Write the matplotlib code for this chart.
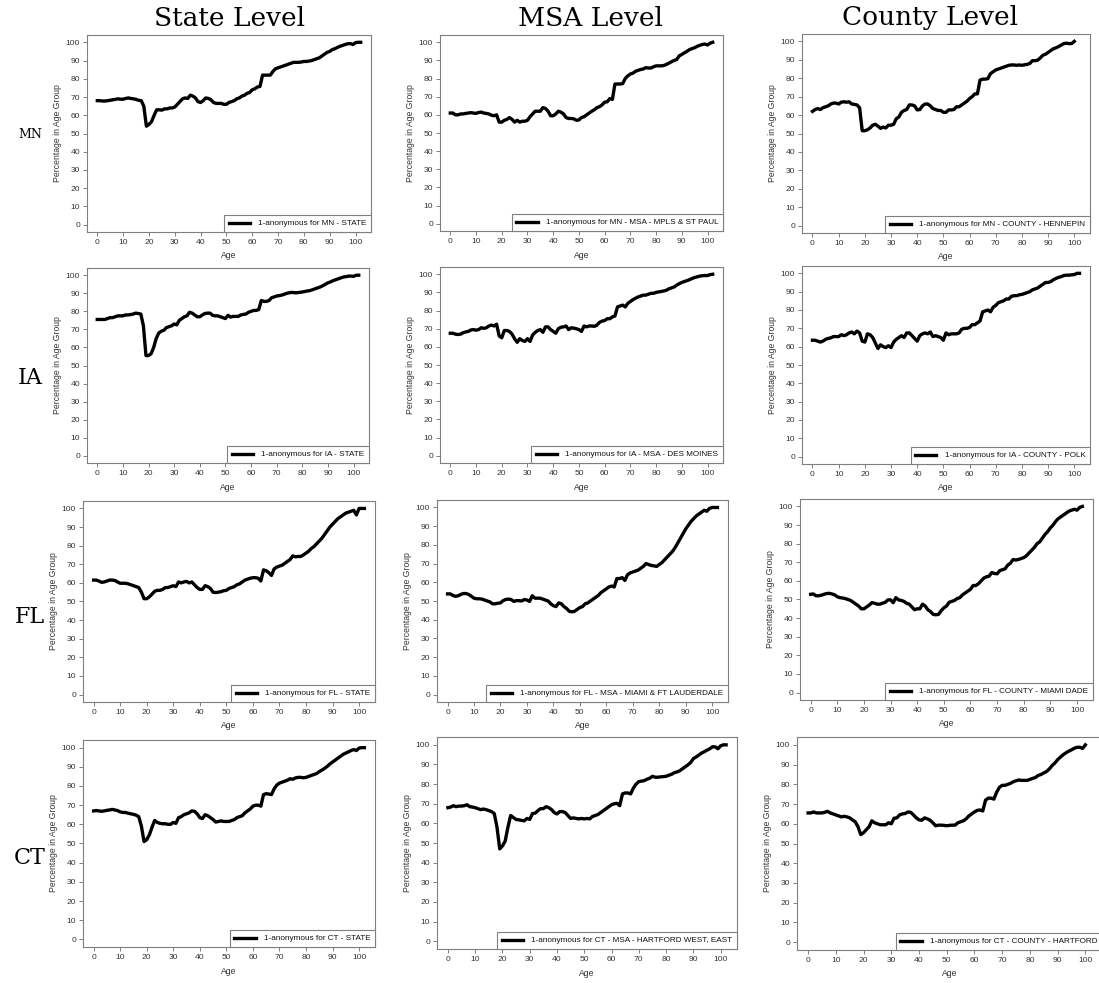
import matplotlib
matplotlib.use("Agg")
import matplotlib.pyplot as plt

ages = list(range(0, 103))

mn_state = [68, 68, 67.8, 67.8, 68, 68.2, 68.5, 68.7, 69, 68.8, 68.8, 69.2, 69.5, 69.2, 69, 68.7, 68.2, 68, 65, 54,
            55, 56.5, 60, 63, 63, 62.8, 63.5, 63.5, 64, 64, 64.5, 66, 67.5, 69, 69.5, 69.2, 71, 70.5, 69.5, 67.5,
            67, 68, 69.5, 69.2, 68.5, 67, 66.5, 66.5, 66.5, 66, 66, 67, 67.5, 68, 69, 69.5, 70.5, 71, 72, 72.5,
            74, 74.5, 75.5, 75.8, 82, 82, 82, 82, 84, 85.5, 86, 86.5, 87, 87.5, 88, 88.5, 89, 89, 89, 89.2,
            89.5, 89.5, 89.7, 90, 90.5, 91, 91.5, 92.5, 93.5, 94.5, 95, 96, 96.5, 97.2, 97.8, 98.3, 98.8, 99.2, 99.3, 98.8,
            99.8, 100, 100]
mn_msa = [61, 61, 60, 60, 60.5, 60.5, 60.8, 61, 61.2, 61, 60.8, 61.3, 61.5, 61, 60.8, 60.5, 59.8, 59.5, 60, 56,
          56, 57, 57.5, 58.5, 57.5, 56, 57, 56, 56.5, 56.5, 57, 59, 60.5, 62, 62, 62, 64, 63.5, 62, 59.5,
          59.5, 60.5, 62, 61.5, 60.5, 58.5, 58, 58, 57.8, 57, 57.2, 58.5, 59, 60, 61, 62, 62.8, 64, 64.5, 65.5,
          67, 67.2, 69, 68.5, 77, 77, 77, 77.2, 80, 81.5, 82.5, 83, 84, 84.5, 85, 85.3, 86, 85.8, 85.8, 86.5,
          87, 87, 87, 87.2, 87.8, 88.5, 89.3, 90, 90.5, 92.5, 93.3, 94.2, 95, 96, 96.5, 97, 97.8, 98.3, 98.8, 99,
          98.5, 99.5, 100]
mn_county = [62, 63, 63.5, 63, 64, 64.5, 65, 66, 66.5, 66.5, 66, 67, 67.2, 67, 67.2, 66, 65.8, 65.5, 64, 51.5,
             51.5, 52, 53, 54.5, 55, 54, 52.8, 53.5, 53, 54.5, 54.5, 55, 58, 59, 61.5, 62.5, 63, 65.5, 65.5, 65,
             62.8, 63, 65, 66, 66, 65, 63.5, 63, 62.5, 62.5, 61.5, 61.5, 62.8, 62.8, 63, 64.5, 64.5, 65.5, 66.5, 67.5,
             69, 70, 71.5, 71.5, 79, 79.5, 79.5, 79.8, 82.5, 83.5, 84.5, 85, 85.5, 86, 86.5, 87, 87.2, 87.2, 87, 87.2,
             87, 87.3, 87.5, 88, 89.5, 89.5, 89.8, 91, 92.5, 93, 94, 95, 96, 96.5, 97.2, 98, 98.8, 99, 98.8, 98.8,
             100]
ia_state = [75.5, 75.5, 75.5, 75.5, 76, 76.5, 76.5, 77, 77.5, 77.5, 77.5, 78, 78, 78.2, 78.5, 79, 78.8, 78.5, 72, 55.5,
            55.5, 56.5, 60, 65, 68, 69, 69.5, 71, 71.5, 72, 73, 72.5, 75, 76, 77, 77.5, 79.5, 79, 78, 77,
            77, 78, 78.8, 79, 79, 77.8, 77.5, 77.5, 77, 76.5, 76, 77.8, 76.8, 77.2, 77.2, 77.2, 78, 78.3, 78.5, 79.5,
            80, 80.5, 80.5, 81, 86, 85.5, 85.5, 86, 87.5, 88, 88.5, 88.7, 89, 89.5, 90, 90.3, 90.5, 90.3, 90.3, 90.5,
            90.7, 91, 91.3, 91.5, 92, 92.5, 93, 93.5, 94.2, 95, 95.8, 96.3, 97, 97.5, 98, 98.5, 99, 99.2, 99.5, 99.5,
            99.4, 100, 100]
ia_msa = [67.5, 67.5, 67, 66.8, 67, 67.8, 68.2, 68.5, 69.3, 69.5, 69.2, 69.5, 70.5, 70.2, 70.5, 71.5, 72, 71.5, 72.5, 66,
          65, 69, 69, 68.5, 67, 64.5, 62.5, 64.5, 63.5, 63, 64.5, 63, 66.5, 68, 69, 69.5, 68, 71, 71, 69.5,
          68.5, 67.5, 70, 70.8, 71, 71.5, 69.5, 70.5, 70.3, 70, 69.5, 68.5, 71.5, 71, 71.5, 71.5, 71.3, 72, 73.5, 74.2,
          74.5, 75.5, 75.5, 76.5, 77, 82, 82.5, 83, 82, 84, 85, 86, 86.8, 87.5, 88, 88.5, 88.5, 89, 89.5, 89.5,
          90, 90.3, 90.5, 90.8, 91.2, 92, 92.5, 93, 94, 94.8, 95.5, 96, 96.5, 97, 97.7, 98.2, 98.6, 99, 99.2, 99.3,
          99.3, 99.8, 100]
ia_county = [63.5, 63.5, 63, 62.5, 63, 64, 64.5, 64.8, 65.5, 65.5, 65.5, 66.5, 66, 66.5, 67.5, 68, 67, 68.5, 67.5, 63,
             62.5, 67, 66.5, 65, 62, 59, 61, 60, 59.5, 60.5, 59.5, 62.5, 64, 65, 66, 65, 67.5, 67.5, 66, 64.5,
             63, 66, 67, 67.5, 67, 68, 65.5, 66, 65.5, 65, 63.5, 67.5, 66.5, 67, 67, 67, 67.5, 69.5, 70, 70,
             70.5, 72, 72, 73, 74, 79, 79.5, 80, 79, 81.5, 82.5, 84, 84.5, 85, 86, 86, 87.5, 87.8, 87.8, 88.3,
             88.5, 89, 89.5, 90, 91, 91.5, 92, 93, 94, 95, 95, 95.5, 96.5, 97.2, 97.8, 98.2, 98.8, 99, 99, 99.2,
             99.3, 100, 100]
fl_state = [61.5, 61.5, 61, 60.3, 60.5, 61, 61.5, 61.5, 61.3, 60.5, 59.8, 59.8, 59.8, 59.5, 59, 58.5, 58, 57.5, 55, 51.5,
            51.5, 52.5, 54, 55.5, 56, 56, 56.5, 57.5, 57.5, 58, 58.5, 58, 60.5, 60, 60.5, 60.8, 60, 60.5, 59, 57.5,
            56.5, 56.5, 58.5, 58, 57, 55, 54.8, 55, 55.3, 55.8, 56, 57, 57.5, 58, 59, 59.5, 60.5, 61.5, 62, 62.5,
            62.8, 62.8, 62.5, 61, 67, 66.5, 65.5, 64, 67.5, 68.5, 69, 69.5, 70.5, 71.5, 72.5, 74.5, 74, 74.2, 74.2, 75,
            76, 77, 78.5, 79.5, 81, 82.5, 84, 86, 88, 90, 91.5, 93, 94.5, 95.5, 96.5, 97.5, 98, 98.5, 99, 96.5,
            100, 100, 100]
fl_msa = [53.8, 53.8, 53, 52.5, 52.8, 53.5, 54, 54, 53.5, 52.5, 51.5, 51.2, 51.2, 51, 50.5, 50, 49.5, 48.5, 48.5, 48.8,
          49, 50.2, 50.8, 51, 50.8, 49.8, 50.2, 50.2, 50, 50.8, 50.5, 49.8, 52.8, 51.5, 51.5, 51.5, 51, 50.5, 50, 48.5,
          47.5, 47, 49, 48.5, 47, 46, 44.5, 44.2, 44.5, 45.5, 46.5, 47, 48.5, 49, 50, 51, 52, 53, 54.5, 55.5,
          56.5, 57.5, 58, 57.5, 62, 62, 62.5, 61, 64, 65, 65.5, 66, 66.5, 67.5, 68.5, 70, 69.5, 69, 68.8, 68.5,
          69.5, 70.5, 72, 73.5, 75, 76.5, 78.5, 81, 83.5, 86, 88.5, 90.5, 92.5, 94, 95.5, 96.5, 97.5, 98.5, 98, 99.5,
          100, 100, 100]
fl_county = [52.8, 53, 52, 52, 52.3, 52.8, 53.2, 53.3, 53, 52.5, 51.5, 51, 50.8, 50.5, 50, 49.5, 48.5, 47.5, 46.5, 45,
             45, 46, 47, 48.3, 48, 47.5, 47.5, 48, 48.5, 49.8, 49.8, 48.3, 51, 49.8, 49.5, 49, 48, 47.5, 46, 44.5,
             45, 45, 47.5, 46.5, 44.5, 43.5, 42, 41.8, 42, 44, 45.5, 46.5, 48.5, 49, 49.5, 50.5, 51, 52.5, 53.5, 54.5,
             55.5, 57.5, 57.5, 58.5, 60, 61.5, 62.2, 62.5, 64.5, 64, 63.8, 65.5, 66, 66.5, 68.5, 69.5, 71.5, 71.2, 71.5, 72,
             72.5, 73.5, 75, 76.5, 78, 80, 81, 83, 85, 86.5, 88.5, 90, 92, 93.5, 94.5, 95.5, 96.5, 97.5, 98, 98.5,
             98, 99.5, 100]
ct_state = [67, 67.2, 67, 66.8, 67, 67.3, 67.5, 67.8, 67.5, 67.2, 66.5, 66.2, 66.2, 65.8, 65.5, 65.2, 64.8, 64, 59, 51,
            52, 54.5, 58.5, 62, 61, 60.5, 60.3, 60.3, 60, 60, 61, 60.5, 63.5, 64, 65, 65.5, 66, 67, 66.8, 65.5,
            63.5, 63, 65, 64.5, 63.5, 62.5, 61.2, 61.5, 61.8, 61.5, 61.5, 61.5, 62, 62.5, 63.5, 64, 64.5, 66, 67, 68,
            69.5, 70, 70, 69.5, 75.5, 76, 75.8, 75.5, 78.5, 80.5, 81.5, 82, 82.5, 83, 83.8, 83.5, 84.2, 84.5, 84.5, 84.3,
            84.5, 85, 85.5, 86, 86.5, 87.5, 88.3, 89.2, 90.2, 91.5, 92.5, 93.5, 94.5, 95.5, 96.5, 97.2, 97.8, 98.5, 99, 98.5,
            99.8, 100, 100]
ct_msa = [68, 68.3, 69, 68.5, 68.8, 68.8, 69, 69.5, 68.5, 68.3, 68, 67.5, 67, 67.3, 67, 66.5, 66, 65, 58, 47,
          48.5, 51, 58, 64, 63, 62, 61.8, 61.5, 61.3, 62.5, 62, 65, 65.2, 66.5, 67.5, 67.5, 68.5, 68, 67, 65.5,
          64.8, 66, 66, 65.5, 64, 62.5, 62.8, 62.5, 62.3, 62.5, 62.3, 62.5, 62.3, 63.5, 64, 64.5, 65.5, 66.5, 67.5, 68.5,
          69.5, 70, 70.2, 69, 75, 75.5, 75.5, 75, 78, 80, 81.3, 81.5, 81.8, 82.5, 83, 84, 83.5, 83.5, 83.7, 83.8,
          84, 84.5, 85, 85.8, 86.2, 86.8, 87.8, 88.8, 89.8, 91, 93, 93.8, 94.8, 95.8, 96.5, 97.3, 98, 99, 99, 98,
          99.5, 100, 100]
ct_county = [65.5, 65.5, 66, 65.5, 65.5, 65.5, 65.8, 66.3, 65.5, 65, 64.5, 64, 63.5, 63.8, 63.5, 63, 62, 61, 58.5, 54.5,
             55.5, 57, 58.5, 61.5, 60.5, 60, 59.5, 59.5, 59.5, 60.5, 60, 62.8, 63, 64.5, 65, 65.2, 66, 65.8, 64.5, 63,
             62, 61.8, 63, 62.5, 61.8, 60.5, 59, 59.3, 59.3, 59.2, 59, 59.2, 59.3, 59.3, 60.5, 61, 61.5, 62.5, 64, 65,
             66, 66.8, 67, 66.5, 72, 73, 73, 72.5, 76, 78.5, 79.5, 79.5, 80, 80.5, 81.3, 81.8, 82.2, 82, 82, 82,
             82.5, 83, 83.5, 84.5, 85, 85.8, 86.5, 87.8, 89.5, 90.8, 92.5, 93.8, 95, 96, 96.8, 97.5, 98.3, 98.8, 98.8, 98.2,
             100]

legend_labels = [
    ["1-anonymous for MN - STATE", "1-anonymous for MN - MSA - MPLS & ST PAUL", "1-anonymous for MN - COUNTY - HENNEPIN"],
    ["1-anonymous for IA - STATE", "1-anonymous for IA - MSA - DES MOINES", "1-anonymous for IA - COUNTY - POLK"],
    ["1-anonymous for FL - STATE", "1-anonymous for FL - MSA - MIAMI & FT LAUDERDALE", "1-anonymous for FL - COUNTY - MIAMI DADE"],
    ["1-anonymous for CT - STATE", "1-anonymous for CT - MSA - HARTFORD WEST, EAST", "1-anonymous for CT - COUNTY - HARTFORD"],
]
series = [
    [mn_state, mn_msa, mn_county],
    [ia_state, ia_msa, ia_county],
    [fl_state, fl_msa, fl_county],
    [ct_state, ct_msa, ct_county],
]
col_titles = ["State Level", "MSA Level", "County Level"]
row_labels = ["MN", "IA", "FL", "CT"]
xticks = list(range(0, 101, 10))
yticks = list(range(0, 101, 10))

W, H = 1099, 983
fig = plt.figure(figsize=(W / 100, H / 100), dpi=100)
fig.patch.set_facecolor("white")

# pixel boxes (left, top, right, bottom)
boxes = [
    [(87, 35, 371, 232), (440, 35, 723, 231), (802, 34, 1090, 233)],
    [(87, 268, 369, 463), (440, 267, 723, 463), (802, 266, 1090, 464)],
    [(83, 501, 375, 702), (437, 500, 728, 702), (800, 499, 1093, 700)],
    [(83, 740, 375, 947), (437, 737, 737, 949), (797, 737, 1102, 950)],
]

sans = "Liberation Sans"
spine_col = "#7f7f7f"
text_col = "#333333"

for r in range(4):
    for c in range(3):
        l, t, rr, b = boxes[r][c]
        ax = fig.add_axes([l / W, 1 - b / H, (rr - l) / W, (b - t) / H])
        y = series[r][c]
        ax.plot(ages[:len(y)], y, color="black", lw=2.4, solid_joinstyle="round",
                label=legend_labels[r][c])
        ax.set_xlim(-4, 106)
        ax.set_ylim(-4, 104)
        ax.set_xticks(xticks)
        ax.set_yticks(yticks)
        ax.tick_params(axis="both", labelsize=6.1, colors=spine_col, labelcolor=text_col,
                       length=3, width=0.7, direction="out", pad=2)
        for lab in ax.get_xticklabels() + ax.get_yticklabels():
            lab.set_fontfamily(sans)
        for s in ax.spines.values():
            s.set_color(spine_col)
            s.set_linewidth(0.8)
        ax.set_xlabel("Age", fontsize=6.2, family=sans, color=text_col, labelpad=4)
        ax.set_ylabel("Percentage in Age Group", fontsize=6.2, family=sans, color=text_col, labelpad=3)
        leg = ax.legend(loc="lower right", borderaxespad=0, fancybox=False,
                        prop={"family": sans, "size": 5.9}, handlelength=2.6,
                        borderpad=0.55, handletextpad=1.0, framealpha=1)
        leg.get_frame().set_edgecolor(spine_col)
        leg.get_frame().set_linewidth(0.8)
        for txt in leg.get_texts():
            txt.set_color("#111111")

title_x = [230, 590, 930]
for c in range(3):
    fig.text(title_x[c] / W, 1 - 18 / H, col_titles[c], ha="center", va="center",
             family="DejaVu Serif", fontsize=19, color="black")

row_y = [135, 378, 617, 858]
row_size = [9, 16, 16, 16]
for r in range(4):
    fig.text(30 / W, 1 - row_y[r] / H, row_labels[r], ha="center", va="center",
             family="DejaVu Serif", fontsize=row_size[r], color="black")

fig.savefig("out.png", dpi=100, facecolor="white")
